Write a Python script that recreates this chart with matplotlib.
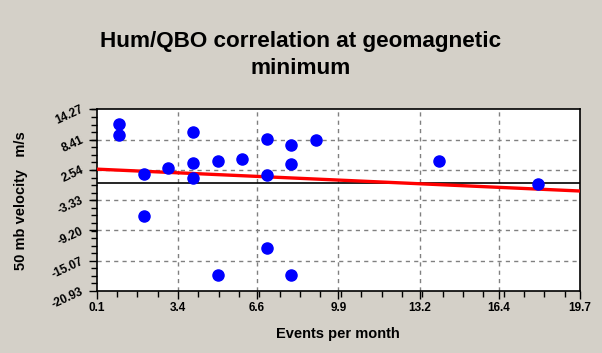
import matplotlib
matplotlib.use('Agg')
import matplotlib.pyplot as plt
import numpy as np
from matplotlib.ticker import FixedLocator, AutoMinorLocator

# Data
events = [1, 1, 2, 2, 3, 4, 4, 4, 5, 5, 6, 7, 7, 7, 8, 8, 8, 9, 14, 18]
velocity = [11.48, 9.22, 1.80, -6.46, 2.90, 9.87, 3.87, 0.97, 4.18, -17.89,
            4.57, 8.52, 1.47, -12.66, 7.28, 3.74, -17.89, 8.38, 4.18, -0.13]
x_ticks = [0.1, 3.4, 6.6, 9.9, 13.2, 16.4, 19.7]
y_ticks = [-20.93, -15.07, -9.20, -3.33, 2.54, 8.41, 14.27]

plt.rcParams['font.family'] = ['Liberation Sans', 'DejaVu Sans']
plt.rcParams['font.weight'] = 'bold'

bg = '#D4D0C8'
fig = plt.figure(figsize=(6.02, 3.53), dpi=100, facecolor=bg)
ax = fig.add_axes([0.1606, 0.1756, 0.8029, 0.5148])
ax.set_facecolor('white')

xmin, xmax = x_ticks[0], x_ticks[-1]
ymin, ymax = y_ticks[0], y_ticks[-1]
ax.set_xlim(xmin, xmax)
ax.set_ylim(ymin, ymax)

# grid at inner major ticks
for xv in x_ticks[1:-1]:
    ax.axvline(xv, color='#808080', lw=1, ls=(0, (3, 3)), zorder=1)
for yv in y_ticks[1:-1]:
    ax.axhline(yv, color='#808080', lw=1, ls=(0, (3, 3)), zorder=1)
ax.axhline(0, color='black', lw=1.2, zorder=2)

# regression line
slope, intercept = np.polyfit(events, velocity, 1)
xs = np.array([xmin, xmax])
ax.plot(xs, slope * xs + intercept, color='#FF0000', lw=2.4, zorder=3)

ax.plot(events, velocity, 'o', color='#0000FF', ms=8, mec='#0000FF', zorder=4)

ax.xaxis.set_major_locator(FixedLocator(x_ticks))
ax.yaxis.set_major_locator(FixedLocator(y_ticks))
ax.xaxis.set_minor_locator(AutoMinorLocator(4))
ax.yaxis.set_minor_locator(AutoMinorLocator(4))
ax.set_xticklabels(['%.1f' % v for v in x_ticks], fontsize=8.5, fontweight='bold')
ax.set_yticklabels(['%.2f' % v for v in y_ticks], fontsize=8.5, fontweight='bold',
                   rotation=25, ha='right', va='center', rotation_mode='anchor')
ax.tick_params(which='major', direction='out', length=6, width=1, color='black', pad=2)
ax.tick_params(which='minor', direction='out', length=4, width=1, color='black')
ax.tick_params(axis='y', which='major', pad=4)
for s in ax.spines.values():
    s.set_linewidth(1.2)
    s.set_color('black')

ax.set_xlabel('Events per month', fontsize=10.5, fontweight='bold', labelpad=9)
ax.set_ylabel('50 mb velocity   m/s', fontsize=10.5, fontweight='bold', labelpad=16)

fig.text(0.50, 0.845, 'Hum/QBO correlation at geomagnetic\nminimum', ha='center',
         va='center', fontsize=16.2, fontweight='bold', linespacing=1.38)

fig.savefig('out.png', dpi=100, facecolor=bg)
